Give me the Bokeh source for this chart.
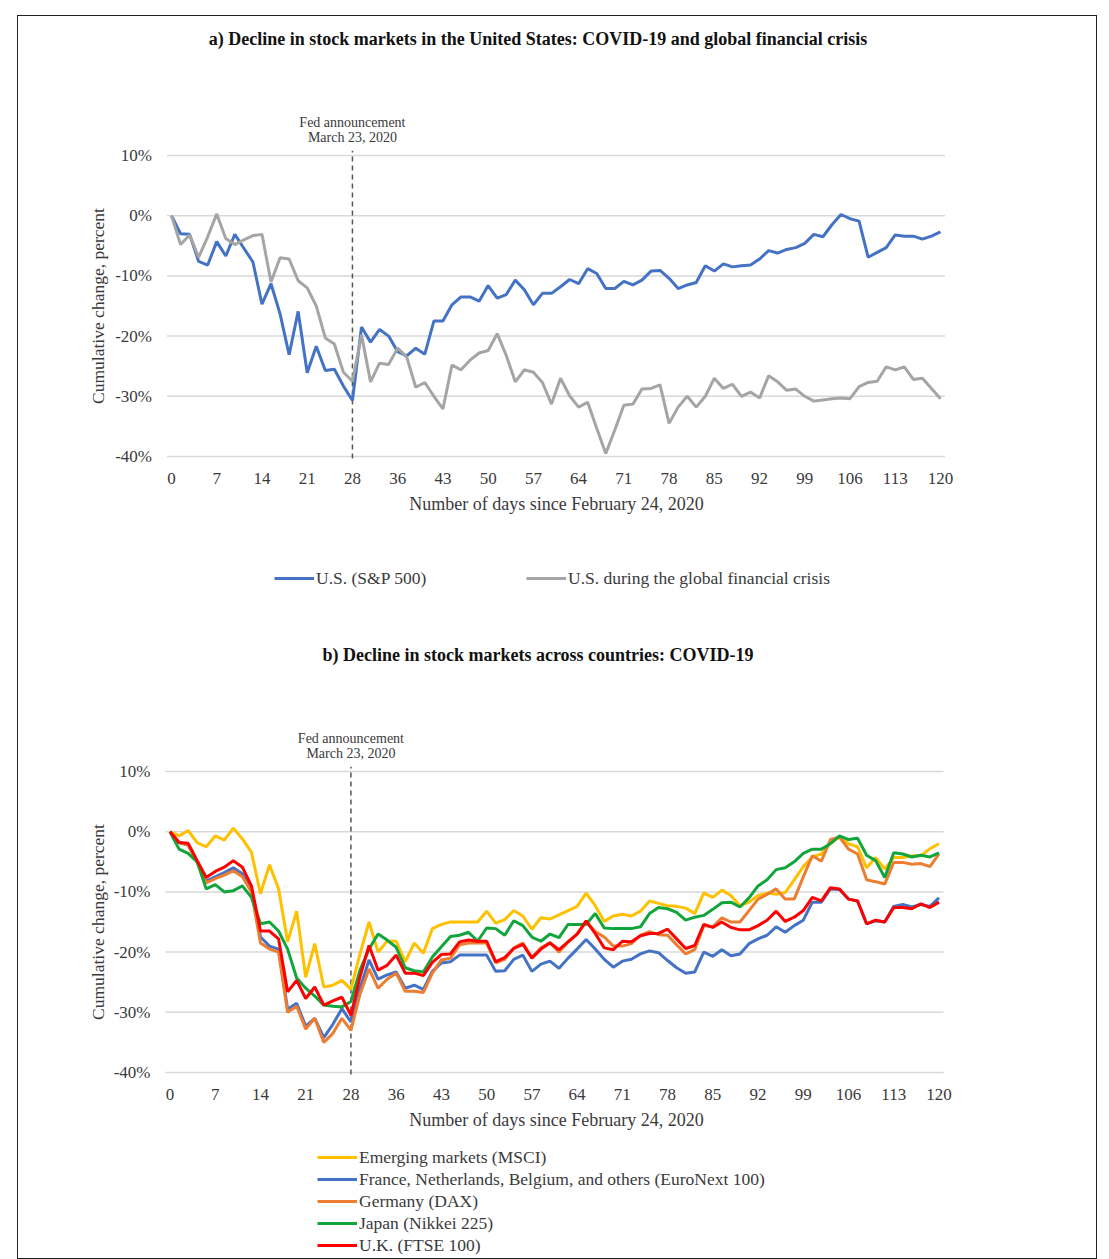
import math
from bokeh.plotting import figure
from bokeh.models import (Range1d, FixedTicker, Label, Legend, LegendItem,
                          PrintfTickFormatter)
from bokeh.layouts import column
from bokeh.embed import file_html
from bokeh.resources import INLINE

# ---------------- data ----------------
# x positions are trading-day indices; tick labels show calendar days since Feb 24, 2020
day_tick_index = [0, 5, 10, 15, 20, 25, 30, 35, 40, 45, 50, 55, 60, 65, 70, 75, 80, 85]
day_tick_labels = ["0", "7", "14", "21", "28", "36", "43", "50", "57", "64",
                   "71", "78", "85", "92", "99", "106", "113", "120"]
fed_index = 20
y_ticks = [-40, -30, -20, -10, 0, 10]

sp500 = [0, -3, -3.1, -7.6, -8.2, -4.3, -6.7, -3.1, -5.4, -7.7,
         -14.7, -11.3, -16.3, -23.1, -15.9, -26.1, -21.7, -25.7, -25.5, -28.3,
         -30.7, -18.5, -21, -18.9, -20, -22.6, -23.3, -22, -23, -17.5,
         -17.5, -14.8, -13.5, -13.5, -14.2, -11.6, -13.7, -13.1, -10.7, -12.3,
         -14.8, -12.9, -12.9, -11.8, -10.6, -11.3, -8.8, -9.6, -12.1, -12.1,
         -10.9, -11.5, -10.7, -9.2, -9.1, -10.4, -12.1, -11.5, -11.1, -8.3,
         -9.2, -8.0, -8.5, -8.3, -8.2, -7.2, -5.8, -6.2, -5.6, -5.3,
         -4.6, -3.1, -3.5, -1.5, 0.2, -0.5, -0.9, -6.9, -6.1, -5.3,
         -3.2, -3.4, -3.4, -3.9, -3.4, -2.7]

gfc = [0, -4.8, -3.2, -6.9, -3.5, 0.3, -3.8, -4.8, -4.0, -3.3,
       -3.1, -11, -7, -7.2, -10.8, -12, -15, -20.3, -21.3, -26,
       -27.5, -19.8, -27.6, -24.5, -24.7, -22, -23.5, -28.5, -27.7, -30,
       -32.1, -24.8, -25.6, -24, -22.8, -22.4, -19.6, -23.2, -27.6, -25.6,
       -26, -27.7, -31.3, -27, -29.9, -31.8, -31, -35.3, -39.5, -35.6,
       -31.5, -31.3, -28.8, -28.7, -28.1, -34.5, -31.8, -30, -31.8, -30,
       -27, -28.7, -28, -30, -29.3, -30.3, -26.6, -27.6, -29, -28.8,
       -30, -30.8, -30.6, -30.4, -30.3, -30.4, -28.4, -27.7, -27.5, -25.1,
       -25.6, -25.1, -27.2, -27, -28.7, -30.4]

em_msci = [0, -0.7, 0.2, -1.8, -2.5, -0.7, -1.4, 0.6, -1.2, -3.4,
           -10.3, -5.5, -9.5, -18.3, -13.2, -24.2, -18.6, -25.8, -25.5, -24.7,
           -26.2, -20.3, -15, -20, -18.2, -18.2, -21.6, -18.5, -20.2, -16.1,
           -15.4, -15, -15, -15, -15, -13.2, -15.2, -14.6, -13.1, -14,
           -16.2, -14.3, -14.5, -13.8, -13.1, -12.4, -10.2, -12.3, -14.9, -14,
           -13.7, -14, -13.2, -11.5, -11.9, -12.3, -12.4, -12.7, -13.6, -10.2,
           -10.9, -9.7, -10.6, -12.3, -11.7, -10.6, -10.2, -10.4, -10.1, -8,
           -5.8, -4.2, -3.7, -1.9, -0.9, -2, -2.5, -6, -4.3, -6.2,
           -4.3, -4.3, -4, -4, -2.8, -2]

euronext = [0, -1.8, -2.2, -5, -8.2, -7.5, -6.8, -6, -7, -9.5,
            -17.5, -19, -19.5, -29.5, -28.5, -32.3, -31, -34.2, -32, -29.4,
            -31.6, -26, -21.3, -24.5, -23.8, -23.3, -26, -25.5, -26.2, -23.2,
            -21.8, -21.6, -20.5, -20.5, -20.5, -20.5, -23.2, -23.1, -21.2, -20.5,
            -23.2, -22, -21.5, -22.7, -21, -19.5, -17.9, -19.5, -21.2, -22.5,
            -21.5, -21.2, -20.3, -19.8, -20.1, -21.4, -22.6, -23.5, -23.3, -20,
            -20.7, -19.6, -20.6, -20.3, -18.6, -17.8, -17.2, -15.8, -16.7, -15.6,
            -14.7, -11.7, -11.7, -9.5, -9.6, -11.2, -11.5, -15.3, -14.8, -15,
            -12.4, -12.1, -12.5, -12.1, -12.4, -11]

dax = [0, -1.8, -2.2, -5, -8.5, -7.8, -7.2, -6.5, -7.5, -10,
       -18.5, -19.5, -20, -30, -29, -32.8, -31, -35, -33.5, -31,
       -33, -27, -22.8, -26, -24.5, -23.5, -26.5, -26.5, -26.7, -23.5,
       -21.3, -21, -18.8, -18.5, -18.5, -18.5, -21.8, -21.2, -19.3, -18.5,
       -20.9, -19.3, -18.4, -20, -18.3, -17, -15, -16.6, -17.5, -19,
       -19, -18.6, -17.2, -16.6, -17.1, -17.2, -18.8, -20.3, -19.6, -15.6,
       -15.8, -14.3, -15, -15, -13.1, -11.2, -10.4, -9.5, -11.2, -11.2,
       -7.5, -4, -4.9, -1.3, -0.9, -2.9, -3.7, -8, -8.3, -8.7,
       -5.1, -5.1, -5.4, -5.3, -5.8, -3.7]

nikkei = [0, -2.9, -3.6, -5, -9.5, -8.8, -10, -9.8, -9, -10.9,
          -15.3, -15, -16.5, -19.5, -24.3, -26, -27.3, -28.8, -29, -29.1,
          -28.2, -23, -19.5, -17, -18, -19.2, -22.6, -23.1, -23.3, -20.8,
          -19.1, -17.4, -17.2, -16.7, -18.2, -16, -16.1, -17.2, -14.8, -15.6,
          -17.5, -18.2, -17, -17.6, -15.4, -15.4, -15.4, -13.6, -16, -16.1,
          -16.1, -16.1, -15.8, -13.6, -12.6, -12.8, -13.4, -14.7, -14.2, -13.9,
          -12.9, -11.8, -11.7, -12.5, -11, -9, -8, -6.3, -6, -5,
          -3.6, -2.9, -2.9, -2, -0.7, -1.3, -1.1, -3.9, -4.8, -7.6,
          -3.5, -3.7, -4.2, -3.9, -4.2, -3.5]

ftse = [0, -1.8, -1.9, -4.8, -7.6, -6.6, -5.9, -4.8, -5.9, -9,
        -16.5, -16.5, -17.8, -26.6, -24.7, -27.7, -25.8, -28.8, -28.1, -27.5,
        -30.5, -24.1, -18.9, -23, -22.2, -20.5, -23.5, -23.5, -23.9, -21.7,
        -20.4, -20.3, -18.3, -18, -18.2, -18.2, -21.6, -20.9, -19.4, -18.7,
        -21, -19.5, -18.5, -19.6, -18.3, -17, -14.8, -16.9, -19.3, -19.6,
        -18.2, -18.3, -17.3, -16.9, -16.9, -16.2, -17.8, -19.4, -18.9, -15.4,
        -15.9, -15, -15.9, -16.3, -16.3, -15.6, -14.7, -13.2, -14.9, -14.2,
        -13.1, -10.9, -11.5, -9.3, -9.5, -11.2, -11.5, -15.3, -14.7, -15,
        -12.6, -12.6, -12.8, -12, -12.6, -11.7]

x_idx = list(range(len(sp500)))

panel_a_series = [
    ("U.S. (S&P 500)", sp500, "#4472C4"),
    ("U.S. during the global financial crisis", gfc, "#A5A5A5"),
]
panel_b_series = [
    ("Emerging markets (MSCI)", em_msci, "#FFC000"),
    ("France, Netherlands, Belgium, and others (EuroNext 100)", euronext, "#4472C4"),
    ("Germany (DAX)", dax, "#ED7D31"),
    ("Japan (Nikkei 225)", nikkei, "#12A53C"),
    ("U.K. (FTSE 100)", ftse, "#FF0000"),
]

title_a = "a) Decline in stock markets in the United States: COVID-19 and global financial crisis"
title_b = "b) Decline in stock markets across countries: COVID-19"
fed_line1 = "Fed announcement"
fed_line2 = "March 23, 2020"
x_label = "Number of days since February 24, 2020"
y_label = "Cumulative change, percent"

# ---------------- layout constants (pixels) ----------------
FONT = "Liberation Serif"
TXT = "#3a3a3a"
FIG_W = 1078
BORDER_L = 60          # left border: holds y tick labels
BORDER_R = 62          # right border: keeps frame centred under x label
FRAME_W = FIG_W - BORDER_L - BORDER_R
PX_PER_IDX = 9.047     # horizontal scale
PX_PER_PCT = 6.02      # vertical scale
BOTTOM_GAP = 10        # px between the -40% line and the frame bottom
X_LO, X_HI = -0.5, 85.5            # plotted area in data units
Y_LO = -40.33
Y_FRAME_LO = -40 - BOTTOM_GAP / PX_PER_PCT
FED_TOP = 10.8


def make_panel(height, frame_h, idx0_px, title_text):
    """frame covers the figure top down to just below the -40% line"""
    x0 = -idx0_px / PX_PER_IDX
    x1 = x0 + FRAME_W / PX_PER_IDX
    y1 = Y_FRAME_LO + frame_h / PX_PER_PCT
    p = figure(width=FIG_W, height=height, output_backend="svg", toolbar_location=None,
               x_range=Range1d(x0, x1), y_range=Range1d(Y_FRAME_LO, y1),
               min_border_left=BORDER_L, min_border_right=BORDER_R,
               min_border_top=0, min_border_bottom=height - frame_h)
    p.outline_line_color = None
    p.background_fill_color = "white"
    p.border_fill_color = "white"
    p.xgrid.visible = False
    p.ygrid.visible = False

    # horizontal gridlines limited to the plotting area
    p.segment(x0=[X_LO] * len(y_ticks), x1=[X_HI] * len(y_ticks), y0=y_ticks, y1=y_ticks,
              line_color="#d9d9d9", line_width=1.5)
    # Fed announcement marker
    p.segment(x0=[fed_index], x1=[fed_index], y0=[Y_LO], y1=[FED_TOP],
              line_color="#555555", line_width=1.5, line_dash="5 4")

    p.yaxis.ticker = FixedTicker(ticks=y_ticks)
    p.yaxis.formatter = PrintfTickFormatter(format="%d%%")
    p.yaxis.fixed_location = X_LO
    p.xaxis.ticker = FixedTicker(ticks=day_tick_index)
    p.xaxis.major_label_overrides = {i: s for i, s in zip(day_tick_index, day_tick_labels)}

    for ax in (p.xaxis, p.yaxis):
        ax.axis_line_color = None
        ax.major_tick_line_color = None
        ax.minor_tick_line_color = None
        ax.major_label_text_font = FONT
        ax.major_label_text_font_size = "17px"
        ax.major_label_text_color = TXT
        ax.axis_label_text_font = FONT
        ax.axis_label_text_font_size = "18px"
        ax.axis_label_text_font_style = "normal"
        ax.axis_label_text_color = TXT
    p.xaxis.major_label_standoff = 0
    p.yaxis.major_label_standoff = 9
    p.xaxis.axis_label = x_label
    p.xaxis.axis_label_standoff = 7

    # texts inside the frame (screen units from frame bottom-left)
    p.add_layout(Label(x=459.5, y=428, x_units="screen", y_units="screen",
                       text=title_text, text_font=FONT, text_font_size="18px",
                       text_font_style="bold", text_color="#111111",
                       text_align="center", text_baseline="middle"))
    p.add_layout(Label(x=fed_index, y=344, x_units="data", y_units="screen",
                       text=fed_line1, text_font=FONT, text_font_size="14px",
                       text_color=TXT, text_align="center", text_baseline="middle"))
    p.add_layout(Label(x=fed_index, y=329, x_units="data", y_units="screen",
                       text=fed_line2, text_font=FONT, text_font_size="14px",
                       text_color=TXT, text_align="center", text_baseline="middle"))
    p.add_layout(Label(x=19, y=160.5, x_units="screen", y_units="screen",
                       text=y_label, text_font=FONT, text_font_size="17.5px",
                       text_color=TXT, text_align="center", text_baseline="middle",
                       angle=math.pi / 2))
    return p


def legend_fig(height, series, locs, vertical):
    p = figure(width=FIG_W, height=height, output_backend="svg", toolbar_location=None,
               x_range=Range1d(X_LO, X_HI), y_range=Range1d(Y_LO, 10),
               min_border_left=0, min_border_right=0, min_border_top=0, min_border_bottom=0,
               x_axis_type=None, y_axis_type=None)
    p.outline_line_color = None
    p.grid.visible = False
    items = []
    for name, vals, col in series:
        r = p.line(x_idx, vals, line_color=col, line_width=3, visible=False)
        items.append(LegendItem(label=name, renderers=[r]))
    groups = [items] if vertical else [[it] for it in items]
    for grp, loc in zip(groups, locs):
        lg = Legend(items=grp, location=loc)
        lg.background_fill_alpha = 0
        lg.border_line_color = None
        lg.padding = 0
        lg.margin = 0
        lg.spacing = 0
        lg.glyph_width = 40
        lg.glyph_height = 22
        lg.label_height = 22
        lg.label_standoff = 2
        lg.label_text_font = FONT
        lg.label_text_font_size = "17.5px"
        lg.label_text_color = TXT
        p.add_layout(lg)
    return p


# ---------- panel a (page y 16..540, frame 16..466) ----------
pa = make_panel(524, 450, 171 - 18 - BORDER_L, title_a)
for name, vals, col in panel_a_series:
    pa.line(x_idx, vals, line_color=col, line_width=3)
pa_leg = legend_fig(86, panel_a_series, [(196, 37), (448, 37)], vertical=False)

# ---------- panel b (page y 626..1145, frame 626..1082) ----------
pb = make_panel(519, 456, 169.5 - 18 - BORDER_L, title_b)
for name, vals, col in panel_b_series:
    pb.line(x_idx, vals, line_color=col, line_width=3)
pb_leg = legend_fig(113, panel_b_series, [(239, 2)], vertical=True)

layout = column(pa, pa_leg, pb, pb_leg, margin=(15, 0, 0, 17),
                styles={"border": "1px solid #222222"})

open("out.html", "w").write(file_html(layout, INLINE))
